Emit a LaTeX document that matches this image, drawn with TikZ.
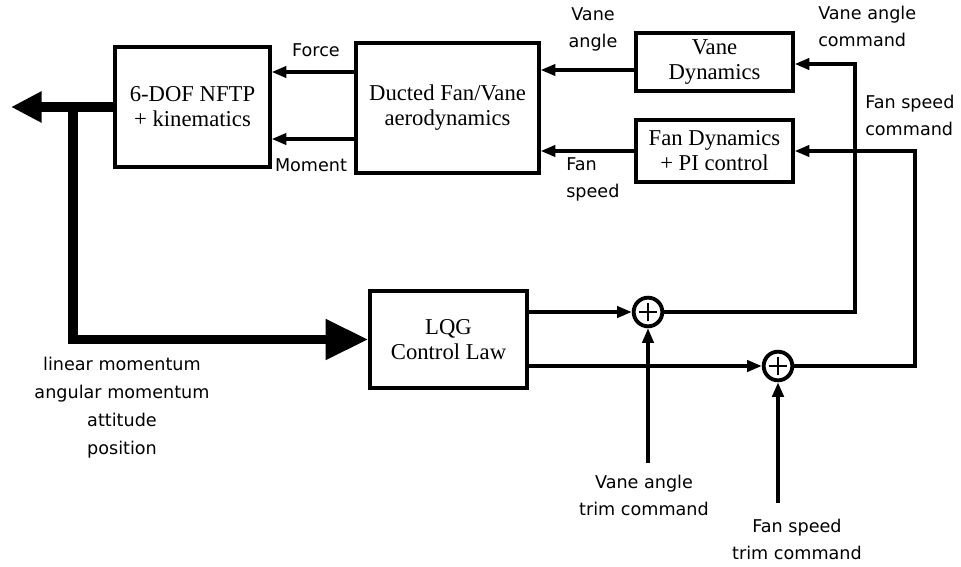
\documentclass[tikz,border=0pt]{standalone}
\usepackage{fontspec}
\setmainfont{Liberation Serif}
\newfontfamily\labelfont{DejaVu Sans}
\usetikzlibrary{arrows.meta,calc}

\tikzset{
  blk/.style={draw, line width=2.9pt, align=center, inner sep=0pt,
              font=\fontsize{17}{18.8}\selectfont},
  sig/.style={line width=2.4pt, -{Triangle[length=11pt,width=8.5pt]}},
  sumnode/.style={circle, draw, line width=2.9pt, minimum size=21.5pt, inner sep=0pt,
     path picture={
       \draw[line width=1.2pt] ([xshift=-7pt]path picture bounding box.center) -- ([xshift=7pt]path picture bounding box.center);
       \draw[line width=1.2pt] ([yshift=-7pt]path picture bounding box.center) -- ([yshift=7pt]path picture bounding box.center);
     }},
  lbl/.style={font=\labelfont\fontsize{13.2}{20.3}\selectfont, inner sep=0pt},
  bus/.style={line width=6.8pt},
}

\begin{document}
\begin{tikzpicture}[x=0.75pt, y=-0.75pt]
\useasboundingbox (0,0) rectangle (961,567);

% blocks
\node[blk, minimum width=116pt, minimum height=90pt]   (box6) at (192.5,107) {6-DOF NFTP\\+ kinematics};
\node[blk, minimum width=137pt, minimum height=97.5pt] (boxD) at (447.5,108) {Ducted Fan/Vane\\aerodynamics};
\node[blk, minimum width=117.5pt, minimum height=43.5pt] (boxV) at (714.5,62) {Vane\\Dynamics};
\node[blk, minimum width=117.5pt, minimum height=46.5pt] (boxF) at (714.5,151) {Fan Dynamics\\+ PI control};
\node[blk, minimum width=117.5pt, minimum height=72.5pt] (boxL) at (448.5,339.5) {LQG\\Control Law};

% summing junctions
\node[sumnode] (sum1) at (648,312) {};
\node[sumnode] (sum2) at (778,366) {};

% route points
\coordinate (out)   at (11,107);
\coordinate (br)    at (73,107);
\coordinate (c1)    at (855,64);
\coordinate (c2)    at (915,151);
\coordinate (trim1) at (648,463);
\coordinate (trim2) at (778,503);

% state bus
\draw[bus, -{Triangle[length=23pt,width=22pt]}] (box6.west) -- (out);
\draw[bus, -{Triangle[length=32pt,width=29pt]}] (br) |- (boxL.west);

% aerodynamic outputs
\draw[sig] (boxD.west |- 0,72)  -- (box6.east |- 0,72);
\draw[sig] (boxD.west |- 0,139) -- (box6.east |- 0,139);

% actuator outputs
\draw[sig] (boxV.west |- 0,70) -- (boxD.east |- 0,70);
\draw[sig] (boxF.west) -- (boxD.east |- boxF.west);

% commands
\draw[sig] (sum1.east) -| (c1) -- (boxV.east |- c1);
\draw[sig] (sum2.east) -| (c2) -- (boxF.east |- c2);

% control law outputs
\draw[sig] (boxL.east |- sum1) -- (sum1.west);
\draw[sig] (boxL.east |- sum2) -- (sum2.west);

% trim inputs
\draw[sig] (trim1) -- (sum1.south);
\draw[sig, line width=3pt] (trim2) -- (sum2.south);

% labels
\node[lbl] (lforce) at (316,50) {Force};
\node[lbl] (lmom)   at (311,165) {Moment};
\node[lbl, align=center] (lvane) at (593,29.5) {Vane\\angle};
\node[lbl, align=left, anchor=west] (lfan) at (566,179.5) {Fan\\speed};
\node[lbl, align=left, anchor=west] (lvcmd) at (818,26.5) {Vane angle\\command};
\node[lbl, align=left, anchor=west] (lfcmd) at (865,115) {Fan speed\\command};
\node[lbl, align=center, font=\labelfont\fontsize{13.2}{21}\selectfont] (lstate) at (122,408)
  {linear momentum\\angular momentum\\attitude\\position};
\node[lbl, align=center] (ltrim1) at (644,495) {Vane angle\\trim command};
\node[lbl, align=center] (ltrim2) at (797,539.5) {Fan speed\\trim command};
\end{tikzpicture}
\end{document}
